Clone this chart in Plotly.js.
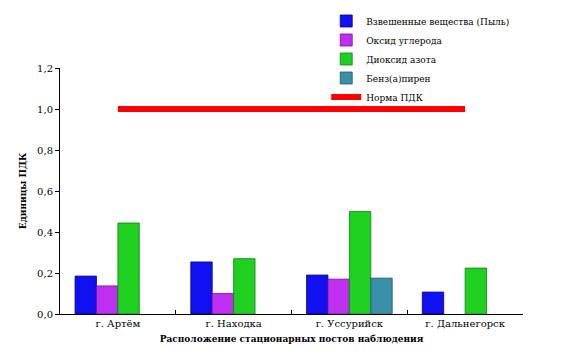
<!DOCTYPE html>
<html><head><meta charset="utf-8">
<script src="https://cdn.plot.ly/plotly-3.0.1.min.js"></script>
<style>html,body{margin:0;padding:0;background:#fff}#c{width:585px;height:359px}</style>
</head><body><div id="c"></div>
<script>
const cities = ["г. Артём", "г. Находка", "г. Уссурийск", "г. Дальнегорск"];
const dust = [0.185, 0.254, 0.19, 0.107];
const co = [0.137, 0.10, 0.17, null];
const no2 = [0.444, 0.27, 0.50, 0.224];
const bap = [null, null, 0.175, null];
const norm = [1.0, 1.0, 1.0, 1.0];
const names = ["Взвешенные вещества (Пыль)", "Оксид углерода", "Диоксид азота", "Бенз(а)пирен", "Норма ПДК"];

const colors = ["#1010F0", "#C030F0", "#20D020", "#3A90A8"];
const lines = ["#00008A", "#7A1090", "#108010", "#205868"];
const series = [dust, co, no2, bap];
const traces = series.map((s, i) => ({
  type: "bar", x: cities, y: s, name: names[i],
  marker: {color: colors[i], line: {color: lines[i], width: 0.8}}
}));
traces.push({
  type: "scatter", mode: "lines", x: cities, y: norm, name: names[4],
  line: {color: "#FF0000", width: 6}
});
const fam = "DejaVu Serif";
const font = {family: fam, color: "#000", size: 10};
Plotly.newPlot("c", traces, {
  width: 585, height: 359,
  paper_bgcolor: "#fff", plot_bgcolor: "#fff",
  margin: {l: 60, r: 62, t: 68, b: 45, autoexpand: false},
  barmode: "group", bargap: 0.26, bargroupgap: 0,
  separators: ", ",
  font: font,
  showlegend: true,
  legend: {x: 0.575, y: 1.25, xanchor: "left", yanchor: "top", font: {family: fam, size: 9, color: "#000"},
           bgcolor: "rgba(0,0,0,0)", tracegroupgap: 0, itemwidth: 30},
  xaxis: {
    type: "category", showline: true, linecolor: "#000", linewidth: 1,
    ticks: "inside", ticklen: 4, tickson: "boundaries", tickcolor: "#000",
    showgrid: false, zeroline: false,
    tickfont: {family: fam, size: 10, color: "#000"},
    title: {text: "<b>Расположение стационарных постов наблюдения</b>", font: {family: fam, size: 9, color: "#000"}, standoff: 7}
  },
  yaxis: {
    range: [0, 1.2], dtick: 0.2, tickformat: ".1f",
    showline: true, linecolor: "#000", linewidth: 1,
    ticks: "outside", ticklen: 4, tickcolor: "#000",
    showgrid: false, zeroline: false,
    tickfont: {family: fam, size: 10, color: "#000"},
    title: {text: "<b>Единицы ПДК</b>", font: {family: fam, size: 9, color: "#000"}, standoff: 8}
  }
}, {staticPlot: true});
</script></body></html>
